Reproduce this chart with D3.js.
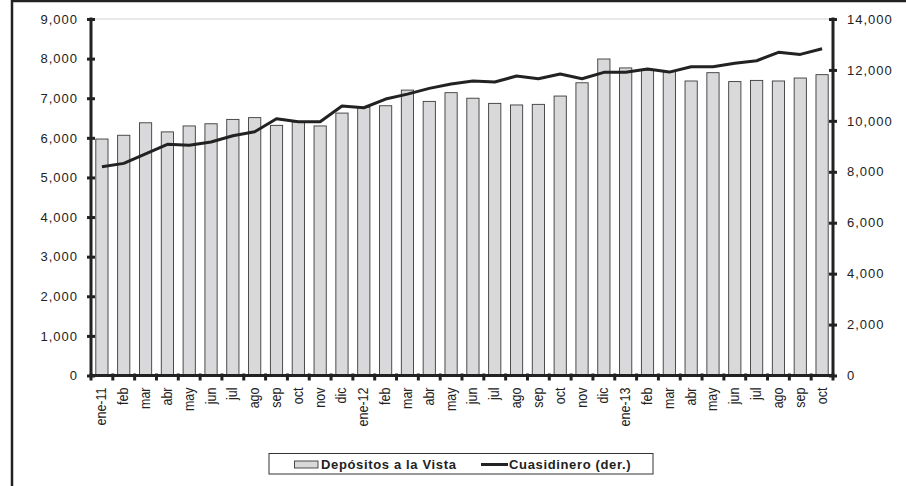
<!DOCTYPE html>
<html>
<head>
<meta charset="utf-8">
<title>Depositos y Cuasidinero</title>
<script src="https://d3js.org/d3.v7.min.js"></script>
<style>
  body { margin: 0; background: #fff; }
  svg { font-family: "Liberation Sans", Arial, sans-serif; }
</style>
</head>
<body>
<svg></svg>
<script>

var months = ['ene-11','feb','mar','abr','may','jun','jul','ago','sep','oct','nov','dic',
  'ene-12','feb','mar','abr','may','jun','jul','ago','sep','oct','nov','dic',
  'ene-13','feb','mar','abr','may','jun','jul','ago','sep','oct']

var depositos = [5970, 6065, 6380, 6150, 6300, 6355, 6465, 6510, 6315, 6400, 6300, 6625,
  6770, 6810, 7205, 6920, 7140, 7000, 6870, 6830, 6845, 7055, 7390, 7990,
  7765, 7710, 7670, 7435, 7645, 7420, 7450, 7435, 7510, 7595]

var cuasidinero = [8200, 8330, 8700, 9080, 9040, 9170, 9415, 9570, 10085, 9965, 9965, 10580,
  10515, 10855, 11050, 11275, 11445, 11565, 11525, 11760, 11655, 11840, 11655, 11905,
  11905, 12035, 11915, 12125, 12125, 12260, 12360, 12690, 12610, 12830]

var leftTicks = [0, 1000, 2000, 3000, 4000, 5000, 6000, 7000, 8000, 9000]
var rightTicks = [0, 2000, 4000, 6000, 8000, 10000, 12000, 14000]

var width = 906, height = 486
var svg = d3.select('svg').attr('width', width).attr('height', height)

// frame (cut by the picture on the right and bottom)
svg.append('rect')
  .attr('x', 12).attr('y', 1)
  .attr('width', width + 20).attr('height', height + 20)
  .attr('fill', 'none').attr('stroke', '#222').attr('stroke-width', 2.5)

var plot = {left: 91, right: 833, top: 19, bottom: 375.5}
var ink = '#222'

// keys are indices because month names repeat
var x = d3.scaleBand()
  .domain(d3.range(months.length))
  .range([plot.left, plot.right])
  .paddingInner(0.44)
  .paddingOuter(0.22)

var yL = d3.scaleLinear().domain([0, 9000]).range([plot.bottom, plot.top])
var yR = d3.scaleLinear().domain([0, 14000]).range([plot.bottom, plot.top])

// top line of plot area
svg.append('line')
  .attr('x1', plot.left).attr('x2', plot.right)
  .attr('y1', yL(9000)).attr('y2', yL(9000))
  .attr('stroke', '#d0d0d0').attr('stroke-width', 1)

// bars
svg.append('g').selectAll('rect')
  .data(depositos)
  .enter()
  .append('rect')
  .attr('x', (d, i) => x(i))
  .attr('y', (d) => yL(d))
  .attr('width', x.bandwidth())
  .attr('height', (d) => yL(0) - yL(d))
  .attr('fill', '#d9d9db')
  .attr('stroke', '#3a3a3a')
  .attr('stroke-width', 0.9)

// line
var line = d3.line()
  .x((d, i) => x(i) + x.bandwidth() / 2)
  .y((d) => yR(d))

svg.append('path')
  .datum(cuasidinero)
  .attr('d', line)
  .attr('fill', 'none')
  .attr('stroke', ink)
  .attr('stroke-width', 3)
  .attr('stroke-linejoin', 'round')

// left axis
var gL = svg.append('g')
  .attr('transform', 'translate(' + plot.left + ',0)')
  .call(d3.axisLeft(yL).tickValues(leftTicks).tickFormat(d3.format(',')).tickSize(4).tickPadding(10))
gL.selectAll('.tick line').attr('x1', -4).attr('x2', 4).attr('stroke', ink).attr('stroke-width', 3)
gL.select('.domain').remove()
gL.append('line').attr('y1', plot.top - 1.5).attr('y2', plot.bottom + 1.5)
  .attr('stroke', ink).attr('stroke-width', 3)

// right axis
var gR = svg.append('g')
  .attr('transform', 'translate(' + plot.right + ',0)')
  .call(d3.axisRight(yR).tickValues(rightTicks).tickFormat(d3.format(',')).tickSize(4).tickPadding(10))
gR.selectAll('.tick line').attr('x1', -4).attr('x2', 4).attr('stroke', ink).attr('stroke-width', 3)
gR.select('.domain').remove()
gR.append('line').attr('y1', plot.top - 1.5).attr('y2', plot.bottom + 1.5)
  .attr('stroke', ink).attr('stroke-width', 3)

svg.selectAll('.tick text').attr('font-size', 13).attr('fill', ink)
  .attr('letter-spacing', 1)
  .attr('font-family', '"Liberation Sans", Arial, sans-serif')
gL.selectAll('.tick text').attr('dx', 1)

// x axis line and boundary ticks
svg.append('line')
  .attr('x1', plot.left).attr('x2', plot.right)
  .attr('y1', plot.bottom).attr('y2', plot.bottom)
  .attr('stroke', ink).attr('stroke-width', 3)

var bounds = d3.range(months.length + 1).map((i) => plot.left + x.step() * i)
svg.append('g').selectAll('line')
  .data(bounds)
  .enter()
  .append('line')
  .attr('x1', (d) => d).attr('x2', (d) => d)
  .attr('y1', plot.bottom - 2).attr('y2', plot.bottom + 5)
  .attr('stroke', ink).attr('stroke-width', 3)

// month labels, rotated
svg.append('g').selectAll('text')
  .data(months)
  .enter()
  .append('text')
  .attr('transform', (d, i) => 'translate(' + (x(i) + x.bandwidth() / 2 + 4.5) + ',' + (plot.bottom + 12) + ') rotate(-90) scale(1,1.12)')
  .attr('text-anchor', 'end')
  .attr('font-size', 12.5)
  .attr('fill', ink)
  .text((d) => d)

// legend
var lg = svg.append('g')
lg.append('rect')
  .attr('x', 269).attr('y', 453.5).attr('width', 384).attr('height', 20.5)
  .attr('fill', '#fff').attr('stroke', '#333').attr('stroke-width', 1)
lg.append('rect')
  .attr('x', 294.5).attr('y', 461).attr('width', 23.5).attr('height', 7)
  .attr('fill', '#d9d9db').attr('stroke', '#3a3a3a').attr('stroke-width', 0.9)
lg.append('text')
  .attr('x', 321).attr('y', 469)
  .attr('font-size', 13).attr('font-weight', 'bold').attr('fill', ink)
  .attr('letter-spacing', 0.65)
  .text('Depósitos a la Vista')
lg.append('line')
  .attr('x1', 481).attr('x2', 508).attr('y1', 464.5).attr('y2', 464.5)
  .attr('stroke', ink).attr('stroke-width', 3)
lg.append('text')
  .attr('x', 509).attr('y', 469)
  .attr('font-size', 13).attr('font-weight', 'bold').attr('fill', ink)
  .attr('letter-spacing', 0.65)
  .text('Cuasidinero (der.)')

</script>
</body>
</html>
